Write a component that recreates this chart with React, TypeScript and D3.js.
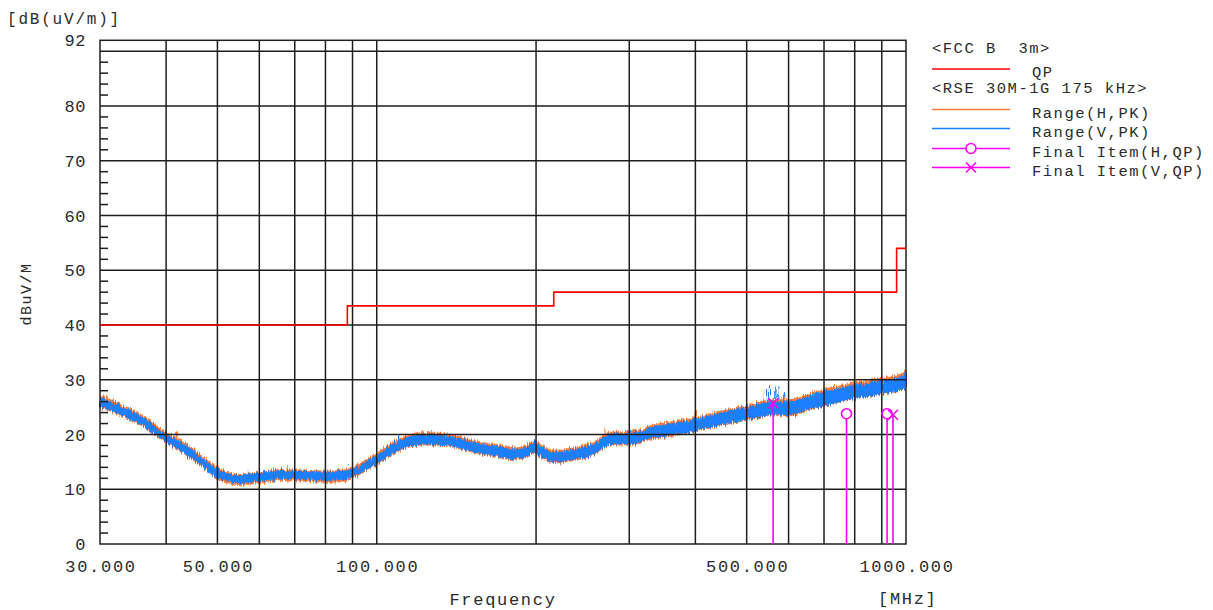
import React, { useEffect } from 'react'
import * as d3 from 'd3'

// ---- data ----
const freqs = [30, 32, 34, 36, 38, 40, 42, 45, 48, 50, 53, 55, 58, 62, 66, 70, 75, 80, 85, 90, 95, 100, 106, 112, 118, 125, 133, 142, 150, 160, 170, 182, 192, 198, 204, 212, 222, 232, 245, 259, 268, 275, 290, 310, 330, 360, 400, 444, 500, 540, 560, 580, 600, 650, 700, 750, 800, 850, 900, 950, 1000]
const vLevel = [26.0, 24.9, 23.7, 22.5, 20.9, 19.3, 18.2, 16.3, 14.1, 12.9, 12.0, 11.8, 12.1, 12.4, 12.7, 12.6, 12.5, 12.4, 12.5, 13.0, 14.2, 15.4, 17.1, 18.3, 18.9, 19.1, 19.0, 18.5, 17.9, 17.3, 16.9, 16.4, 16.8, 17.6, 16.9, 16.0, 15.9, 16.2, 16.7, 17.5, 18.6, 19.1, 19.2, 19.4, 20.3, 20.9, 21.7, 22.8, 23.9, 24.6, 24.9, 24.8, 24.8, 25.7, 26.6, 27.2, 27.8, 28.2, 28.6, 29.0, 29.8]
const hLevel = [26.1, 25.0, 23.8, 22.6, 21.0, 19.4, 18.3, 16.4, 14.2, 12.9, 11.9, 11.7, 12.0, 12.3, 12.6, 12.5, 12.4, 12.3, 12.4, 13.0, 14.3, 15.5, 17.2, 18.4, 19.0, 19.2, 19.1, 18.6, 18.0, 17.4, 17.0, 16.5, 16.9, 17.7, 17.0, 16.1, 16.0, 16.3, 16.8, 17.6, 18.7, 19.2, 19.3, 19.5, 20.4, 21.0, 21.8, 22.9, 24.0, 24.7, 25.0, 24.9, 24.9, 25.8, 26.8, 27.4, 28.0, 28.4, 28.8, 29.2, 30.0]
const bandHalf = [0.8, 0.8, 0.8, 0.8, 0.8, 0.8, 0.8, 0.8, 0.8, 0.8, 0.8, 0.8, 0.8, 0.8, 0.8, 0.8, 0.8, 0.8, 0.8, 0.8, 0.8, 0.85, 0.85, 0.9, 0.9, 0.9, 0.9, 0.9, 0.9, 0.9, 0.9, 0.9, 0.9, 0.9, 0.9, 0.95, 0.95, 0.95, 1.0, 1.0, 1.0, 1.0, 1.0, 1.05, 1.05, 1.1, 1.1, 1.15, 1.2, 1.25, 1.25, 1.25, 1.25, 1.25, 1.25, 1.25, 1.25, 1.25, 1.25, 1.25, 1.25]

// spikes sticking out of the traces: [MHz, top dB]
const vSpikes = [[34, 25.0], [44, 18.2], [57, 13.6], [64, 13.9], [88, 14.6], [110, 20.0], [128, 20.6], [198, 19.0], [300, 20.8], [400, 23.0], [545, 28.2], [552, 29.0], [566, 28.4], [575, 28.8], [590, 27.6], [700, 28.4], [820, 29.9], [960, 30.6]]
const hSpikes = [[42, 20.6], [68, 14.3], [80, 13.6], [203, 18.6], [270, 21.3], [400, 25.3], [450, 24.4], [790, 30.2], [940, 30.9], [990, 31.2]]

// FCC class B 3 m limit (QP)
const limitFreqs = [30, 88, 216, 960, 1000]
const limitLevels = [40, 43.5, 46, 54, 54]

// final measurements
const finalHFreqs = [772, 921]
const finalHLevels = [23.8, 23.8]
const finalVFreqs = [561, 945]
const finalVLevels = [25.7, 23.6]

const yLabels = [0, 10, 20, 30, 40, 50, 60, 70, 80, 92]
const yGrid = [10, 20, 30, 40, 50, 60, 70, 80, 90]
const yMinor = d3.range(2, 92, 2).filter(v => v % 10 !== 0)
const xGrid = [40, 50, 60, 70, 80, 90, 100, 200, 300, 400, 500, 600, 700, 800, 900]
const xLabels = [30, 50, 100, 500, 1000]

const ORANGE = '#ff7d3b'
const BLUE = '#1a7fff'
const MAGENTA = '#ff00ff'
const GRID = '#1e1e1e'
const TEXT = '#2b2b2b'
const FONT = '"Liberation Mono", "DejaVu Sans Mono", monospace'
const NBSP = '\u00a0'

const x = d3.scaleLog().domain([30, 1000]).range([100, 906])
const y = d3.scaleLinear().domain([0, 92]).range([544, 40.3])

const band = (level: number[], extra: number) =>
  d3.area<number>()
    .x(i => x(freqs[i]))
    .y0(i => y(level[i] - bandHalf[i] - extra))
    .y1(i => y(level[i] + bandHalf[i] + extra))
    .curve(d3.curveMonotoneX)(d3.range(freqs.length)) || ''

const limitPath = d3.line<number>()
  .x(i => x(limitFreqs[i]))
  .y(i => y(limitLevels[i]))
  .curve(d3.curveStepAfter)(d3.range(limitFreqs.length)) || ''

const legendRows = [
  { y: 69, label: 'QP', color: '#ff0000', mark: '' },
  { y: 109.5, label: 'Range(H,PK)', color: ORANGE, mark: '' },
  { y: 128.5, label: 'Range(V,PK)', color: BLUE, mark: '' },
  { y: 148.5, label: 'Final Item(H,QP)', color: MAGENTA, mark: 'o' },
  { y: 167.5, label: 'Final Item(V,QP)', color: MAGENTA, mark: 'x' },
]

const Cross = ({ cx, cy }: { cx: number; cy: number }) => (
  <g stroke={MAGENTA} strokeWidth={1.6}>
    <line x1={cx - 5} y1={cy - 5} x2={cx + 5} y2={cy + 5} />
    <line x1={cx - 5} y1={cy + 5} x2={cx + 5} y2={cy - 5} />
  </g>
)

export default function App() {
  useEffect(() => {
    document.body.style.margin = '0'
  }, [])

  const [x0, x1] = x.range()
  const [y0, y1] = y.range()

  return (
    <svg width={1213} height={610} style={{ display: 'block', background: '#fff' }} fontFamily={FONT}>
      <defs>
        {/* roughens the trace edges so they read like a dense sweep */}
        <filter id="sweep" x="-2%" y="-20%" width="104%" height="140%">
          <feTurbulence type="fractalNoise" baseFrequency="0.9 0.08" numOctaves={2} seed={3} result="n" />
          <feDisplacementMap in="SourceGraphic" in2="n" scale={7} xChannelSelector="B" yChannelSelector="R" />
        </filter>
      </defs>

      {/* units */}
      <text x={7} y={24} fontSize={16} letterSpacing={1.8} fill={TEXT}>[dB(uV/m)]</text>
      <text transform="translate(31,294) rotate(-90)" textAnchor="middle" fontSize={15} letterSpacing={1.5} fill={TEXT}>dBuV/M</text>

      {/* traces */}
      <g filter="url(#sweep)">
        <path d={band(hLevel, 0.3)} fill={ORANGE} />
        {hSpikes.map(([f, v], i) => (
          <line key={'hs' + i} x1={x(f)} x2={x(f)} y1={y(v - 2)} y2={y(v)} stroke={ORANGE} strokeWidth={1.3} />
        ))}
      </g>
      <g filter="url(#sweep)">
        <path d={band(vLevel, 0)} fill={BLUE} />
        {vSpikes.map(([f, v], i) => (
          <line key={'vs' + i} x1={x(f)} x2={x(f)} y1={y(v - 2.5)} y2={y(v)} stroke={BLUE} strokeWidth={1.3} />
        ))}
      </g>

      {/* grid */}
      <g stroke={GRID} strokeWidth={1.5}>
        {yGrid.map(v => (
          <line key={'h' + v} x1={x0} x2={x1} y1={y(v)} y2={y(v)} />
        ))}
        {xGrid.map(f => (
          <line key={'v' + f} x1={x(f)} x2={x(f)} y1={y0} y2={y1} />
        ))}
        {yMinor.map(v => (
          <line key={'m' + v} x1={x0} x2={x0 + 8} y1={y(v)} y2={y(v)} />
        ))}
        <rect x={x0} y={y1} width={x1 - x0} height={y0 - y1} fill="none" />
      </g>

      {/* limit */}
      <path d={limitPath} fill="none" stroke="#ff0000" strokeWidth={1.6} />

      {/* final items */}
      {finalHFreqs.map((f, i) => (
        <g key={'fh' + i}>
          <line x1={x(f)} x2={x(f)} y1={y(finalHLevels[i]) + 5} y2={y0} stroke={MAGENTA} strokeWidth={1.6} />
          <circle cx={x(f)} cy={y(finalHLevels[i])} r={5} fill="none" stroke={MAGENTA} strokeWidth={1.6} />
        </g>
      ))}
      {finalVFreqs.map((f, i) => (
        <g key={'fv' + i}>
          <line x1={x(f)} x2={x(f)} y1={y(finalVLevels[i])} y2={y0} stroke={MAGENTA} strokeWidth={1.6} />
          <Cross cx={x(f)} cy={y(finalVLevels[i])} />
        </g>
      ))}

      {/* y tick labels */}
      {yLabels.map(v => (
        <text key={'yl' + v} x={86} y={y(v) + 6} textAnchor="end" fontSize={17} letterSpacing={0.6} fill={TEXT}>{v}</text>
      ))}

      {/* x tick labels */}
      {xLabels.map(f => (
        <text key={'xl' + f} x={x(f) + 1} y={572} textAnchor="middle" fontSize={17} letterSpacing={1.7} fill={TEXT}>{f.toFixed(3)}</text>
      ))}
      <text x={503} y={605} textAnchor="middle" fontSize={17} letterSpacing={1.7} fill={TEXT}>Frequency</text>
      <text x={878} y={604} fontSize={17} letterSpacing={1.7} fill={TEXT}>[MHz]</text>

      {/* legend */}
      <g fontSize={15.5} letterSpacing={1.5} fill={TEXT}>
        <text x={932} y={53}>{`<FCC B${NBSP}${NBSP}3m>`}</text>
        <text x={932} y={93}>{'<RSE 30M-1G 175 kHz>'}</text>
        {legendRows.map(r => (
          <g key={r.label}>
            <line x1={932} x2={1010} y1={r.y} y2={r.y} stroke={r.color} strokeWidth={1.6} />
            {r.mark === 'o' && <circle cx={971} cy={r.y} r={5} fill="#fff" stroke={MAGENTA} strokeWidth={1.6} />}
            {r.mark === 'x' && <Cross cx={971} cy={r.y} />}
            <text x={1032} y={r.y + 8}>{r.label}</text>
          </g>
        ))}
      </g>
    </svg>
  )
}
